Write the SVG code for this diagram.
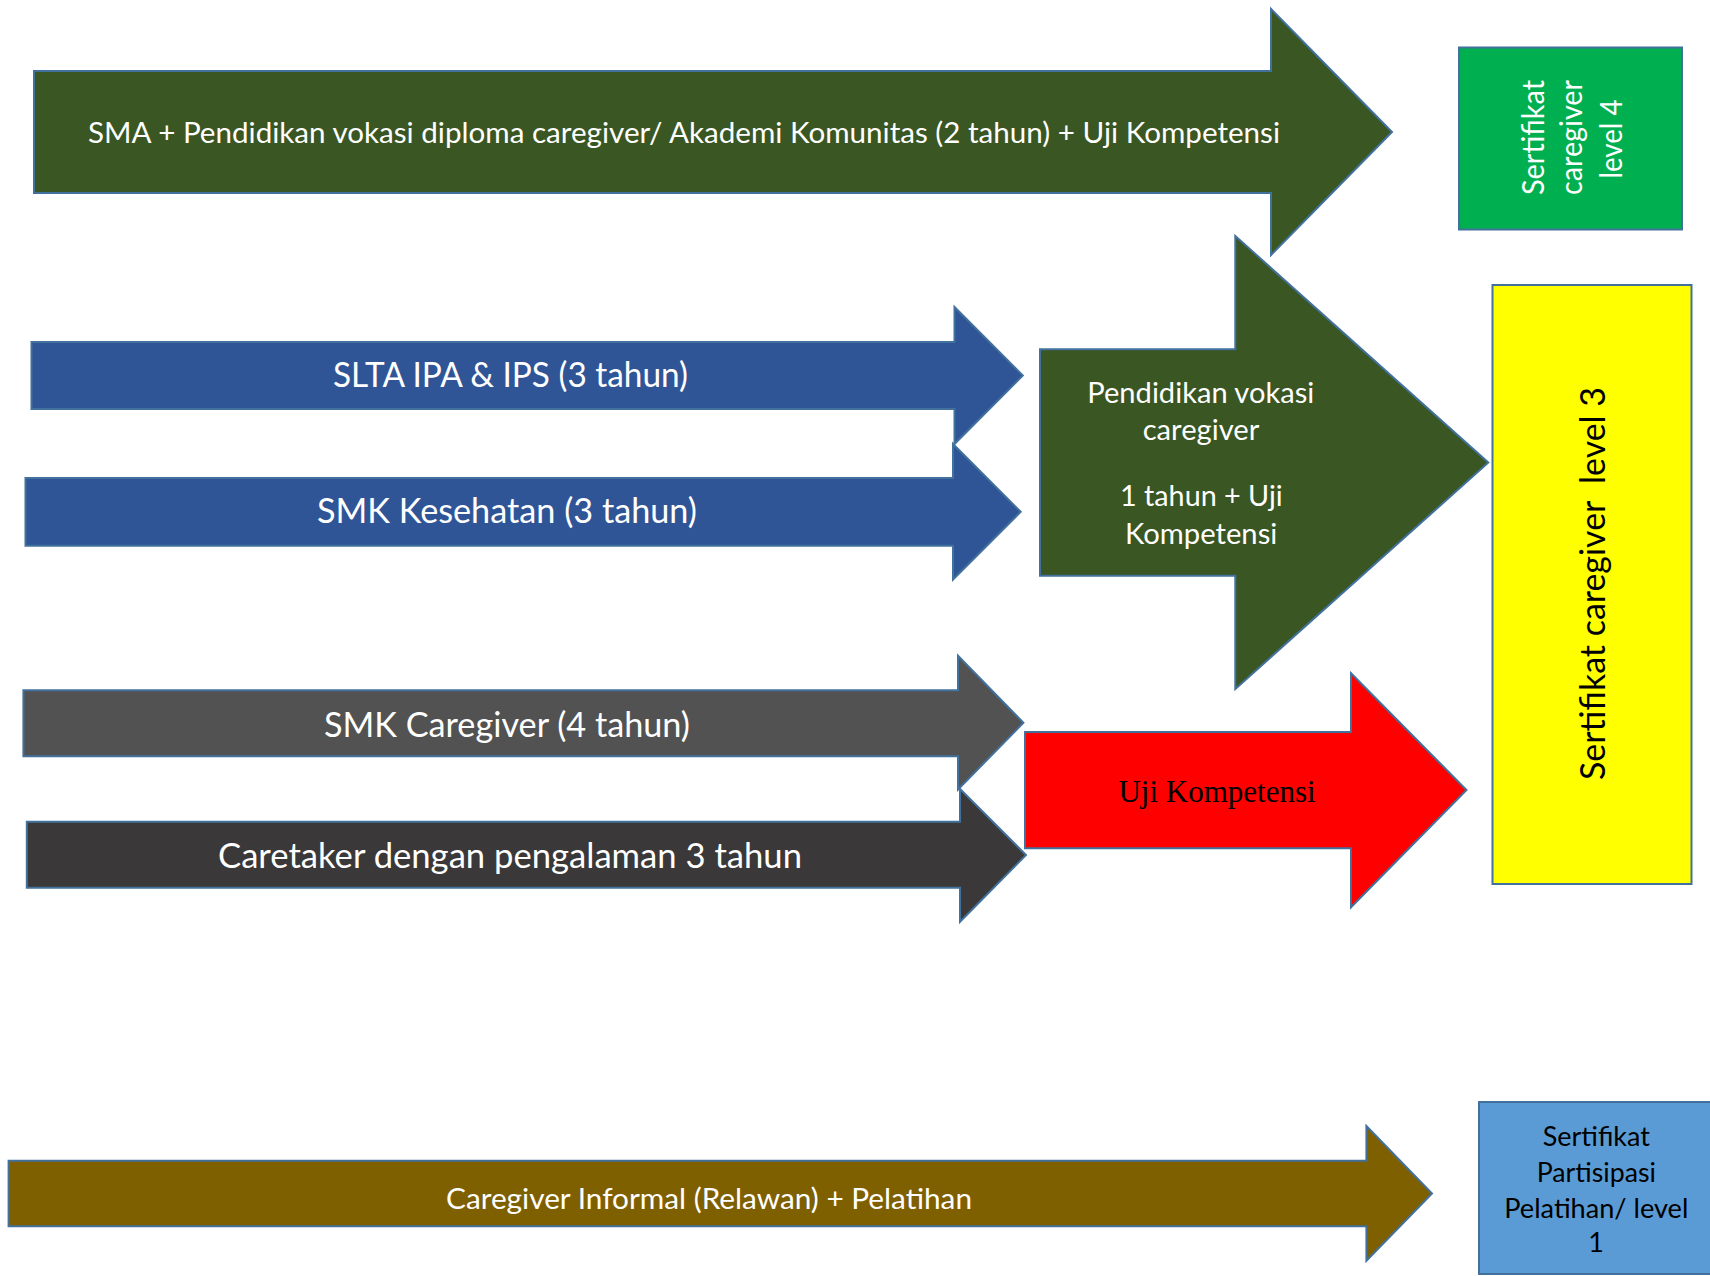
<svg xmlns="http://www.w3.org/2000/svg" width="1710" height="1276" viewBox="0 0 1710 1276">
<style>
  .sh { stroke: #41719C; stroke-width: 2; stroke-linejoin: miter; }
  .t { font-family: Lato, "Open Sans", "Liberation Sans", sans-serif; fill: #FFFFFF; }
  .tb { font-family: Lato, "Open Sans", "Liberation Sans", sans-serif; fill: #000000; }
  .ts { font-family: "Liberation Serif", "Times New Roman", serif; fill: #000000; }
</style>
<rect x="0" y="0" width="1710" height="1276" fill="#FFFFFF"/>

<g id="arrow-sma-diploma">
  <polygon class="sh" fill="#3A5623" points="34,71 1271,71 1271,9 1392,132 1271,255 1271,193 34,193"/>
  <text class="t" x="88" y="143" font-size="29" textLength="1192" lengthAdjust="spacingAndGlyphs">SMA + Pendidikan vokasi diploma caregiver/ Akademi Komunitas (2 tahun) + Uji Kompetensi</text>
</g>

<g id="cert-level4">
  <rect class="sh" fill="#00B050" x="1459" y="47.5" width="223" height="182"/>
  <text class="t" font-size="30" transform="translate(1544,195) rotate(-90)" textLength="115" lengthAdjust="spacingAndGlyphs">Sertifikat</text>
  <text class="t" font-size="30" transform="translate(1582,195) rotate(-90)" textLength="115" lengthAdjust="spacingAndGlyphs">caregiver</text>
  <text class="t" font-size="30" transform="translate(1622,178.5) rotate(-90)" textLength="79" lengthAdjust="spacingAndGlyphs">level 4</text>
</g>

<g id="arrow-slta">
  <polygon class="sh" fill="#2F5597" points="31.5,342 954.5,342 954.5,307 1022.8,375.5 954.5,444 954.5,409 31.5,409"/>
  <text class="t" x="333" y="387" font-size="34" textLength="355" lengthAdjust="spacingAndGlyphs">SLTA IPA &amp; IPS (3 tahun)</text>
</g>

<g id="arrow-smk-kesehatan">
  <polygon class="sh" fill="#2F5597" points="25.5,478 953,478 953,444 1020.7,511.8 953,579.5 953,545.7 25.5,545.7"/>
  <text class="t" x="317" y="523" font-size="34" textLength="380" lengthAdjust="spacingAndGlyphs">SMK Kesehatan (3 tahun)</text>
</g>

<g id="arrow-vokasi">
  <polygon class="sh" fill="#3A5623" points="1040,349.3 1235.3,349.3 1235.3,236 1488.3,462.5 1235.3,689 1235.3,575.7 1040,575.7"/>
  <text class="t" x="1087.3" y="403" font-size="29" textLength="227" lengthAdjust="spacingAndGlyphs">Pendidikan vokasi</text>
  <text class="t" x="1142.7" y="440" font-size="29" textLength="116.7" lengthAdjust="spacingAndGlyphs">caregiver</text>
  <text class="t" x="1120" y="506" font-size="29" textLength="162.7" lengthAdjust="spacingAndGlyphs">1 tahun + Uji</text>
  <text class="t" x="1125" y="544" font-size="29" textLength="152.3" lengthAdjust="spacingAndGlyphs">Kompetensi</text>
</g>

<g id="cert-level3">
  <rect class="sh" fill="#FFFF00" x="1492.5" y="285" width="199" height="599"/>
  <text class="tb" font-size="34" transform="translate(1605,780) rotate(-90)" textLength="393" lengthAdjust="spacingAndGlyphs">Sertifikat caregiver&#160; level 3</text>
</g>

<g id="arrow-smk-caregiver">
  <polygon class="sh" fill="#525252" points="23.4,690.3 958,690.3 958,655.7 1023.4,722.8 958,789.5 958,756.3 23.4,756.3"/>
  <text class="t" x="324" y="737" font-size="34" textLength="366" lengthAdjust="spacingAndGlyphs">SMK Caregiver (4 tahun)</text>
</g>

<g id="arrow-caretaker">
  <polygon class="sh" fill="#3A3838" points="26.8,821.7 960,821.7 960,789 1026,855 960,921.7 960,887.7 26.8,887.7"/>
  <text class="t" x="218" y="868" font-size="34" textLength="584" lengthAdjust="spacingAndGlyphs">Caretaker dengan pengalaman 3 tahun</text>
</g>

<g id="arrow-uji">
  <polygon class="sh" fill="#FF0000" points="1025,732 1351,732 1351,673.3 1466.5,790 1351,907.3 1351,848.3 1025,848.3"/>
  <text class="ts" x="1217" y="802" font-size="31" text-anchor="middle">Uji Kompetensi</text>
</g>

<g id="arrow-informal">
  <polygon class="sh" fill="#7F6000" points="8.6,1160.7 1366.4,1160.7 1366.4,1126 1432,1193.5 1366.4,1260.7 1366.4,1226.3 8.6,1226.3"/>
  <text class="t" x="446" y="1209" font-size="29" textLength="526" lengthAdjust="spacingAndGlyphs">Caregiver Informal (Relawan) + Pelatihan</text>
</g>

<g id="cert-partisipasi">
  <rect class="sh" fill="#5B9BD5" x="1479" y="1102" width="240" height="172"/>
  <text class="tb" x="1542.7" y="1146" font-size="27" textLength="107.3" lengthAdjust="spacingAndGlyphs">Sertifikat</text>
  <text class="tb" x="1536.7" y="1182" font-size="27" textLength="119.3" lengthAdjust="spacingAndGlyphs">Partisipasi</text>
  <text class="tb" x="1504.3" y="1218" font-size="27" textLength="184" lengthAdjust="spacingAndGlyphs">Pelatihan/ level</text>
  <text class="tb" x="1596" y="1252" font-size="27" text-anchor="middle">1</text>
</g>

<g id="connectors"></g>
</svg>
